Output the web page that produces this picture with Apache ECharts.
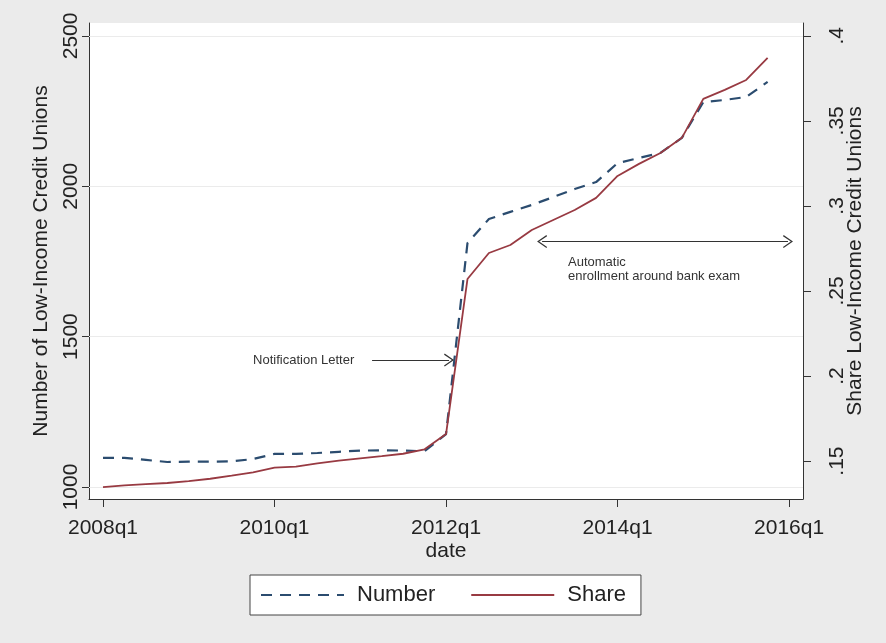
<!DOCTYPE html>
<html><head><meta charset="utf-8">
<script src="https://cdn.jsdelivr.net/npm/echarts@6/dist/echarts.min.js"></script>
<style>html,body{margin:0;padding:0;background:#ebebeb}#c{width:886px;height:643px}</style>
</head><body><div id="c"></div>
<script>
// ---- data ----
const quarterLabels = ['2008q1','2008q2','2008q3','2008q4','2009q1','2009q2','2009q3','2009q4',
  '2010q1','2010q2','2010q3','2010q4','2011q1','2011q2','2011q3','2011q4',
  '2012q1','2012q2','2012q3','2012q4','2013q1','2013q2','2013q3','2013q4',
  '2014q1','2014q2','2014q3','2014q4','2015q1','2015q2','2015q3','2015q4'];
const numberValues = [1097,1097,1090,1083,1084,1084,1085,1093,1110,1110,1113,1117,1121,1122,1121,1119,
  1176,1811,1891,1915,1938,1964,1991,2014,2077,2094,2111,2161,2280,2287,2297,2347];
const shareValues = [0.1347,0.1357,0.1365,0.1371,0.1382,0.1396,0.1414,0.1434,0.1461,0.1467,0.1486,0.1502,0.1516,0.1529,0.1543,0.1569,
  0.1659,0.257,0.2723,0.277,0.2858,0.2917,0.2976,0.3047,0.3176,0.3247,0.3311,0.340,0.3629,0.3682,0.374,0.387];
const xTickValues = [0, 8, 16, 24, 32];
const xTickLabels = ['2008q1','2010q1','2012q1','2014q1','2016q1'];
const leftTickValues = [1000, 1500, 2000, 2500];
const leftTickLabels = ['1000','1500','2000','2500'];
const rightTickValues = [0.15, 0.2, 0.25, 0.3, 0.35, 0.4];
const rightTickLabels = ['.15','.2','.25','.3','.35','.4'];
const seriesNames = ['Number','Share'];
const axisTitles = {x:'date', left:'Number of Low-Income Credit Unions', right:'Share Low-Income Credit Unions'};
const noteLetterText = 'Notification Letter';
const noteEnrollText = 'Automatic\nenrollment around bank exam';

// ---- annotation placement (data units) ----
const noteLetter = {tx: 7.0, y: 1422, from: 12.55, to: 16.14};
const noteEnroll = {tx: 21.69, ty: 1724, y: 1816, from: 20.48, to: 31.95};

const FONT = '"Liberation Sans", Arial, sans-serif';
const TXT = '#222';
const AX = '#333';
const chevron = 'path://M0,10 L5,0 L10,10 L9.1,10.7 L5,2.3 L0.9,10.7 Z';

function lookup(vals, labels, v){
  for (let i=0;i<vals.length;i++) if (Math.abs(vals[i]-v) < 1e-6) return labels[i];
  return '';
}

const chart = echarts.init(document.getElementById('c'), null, {renderer:'canvas'});
chart.setOption({
  animation: false,
  backgroundColor: '#ebebeb',
  textStyle: {fontFamily: FONT},
  grid: {left: 89, right: 83, top: 23, bottom: 144, show: true, backgroundColor: '#fff', borderWidth: 0},
  legend: {
    data: seriesNames, left: 250, top: 575, orient: 'horizontal',
    backgroundColor: '#fff', borderColor: '#444', borderWidth: 1,
    padding: [9, 15, 9, 10], itemWidth: 83, itemHeight: 14, itemGap: 35,
    itemStyle: {opacity: 0},
    textStyle: {fontSize: 22, color: TXT, fontFamily: FONT, padding: [0,0,0,8]}
  },
  xAxis: {
    type: 'value', min: -0.653, max: 32.65,
    name: axisTitles.x, nameLocation: 'middle', nameGap: 42, nameMoveOverlap: false,
    nameTextStyle: {fontSize: 21, color: TXT, fontFamily: FONT},
    axisLine: {show: true, onZero: false, lineStyle: {color: AX, width: 1}},
    axisTick: {show: true, length: 8, customValues: xTickValues, lineStyle: {color: AX}},
    axisLabel: {customValues: xTickValues, fontSize: 21, color: TXT, margin: 19,
      formatter: v => lookup(xTickValues, xTickLabels, v)},
    splitLine: {show: false}
  },
  yAxis: [{
    type: 'value', position: 'left', min: 960, max: 2543,
    name: axisTitles.left, nameLocation: 'middle', nameGap: 37, nameMoveOverlap: false,
    nameTextStyle: {fontSize: 21, color: TXT, fontFamily: FONT},
    axisLine: {show: true, onZero: false, lineStyle: {color: AX, width: 1}},
    axisTick: {show: true, length: 7, customValues: leftTickValues, lineStyle: {color: AX}},
    axisLabel: {customValues: leftTickValues, rotate: 90, fontSize: 21, color: TXT, margin: 7,
      formatter: v => lookup(leftTickValues, leftTickLabels, v)},
    splitLine: {show: false}
  }, {
    type: 'value', position: 'right', min: 0.1277, max: 0.4075,
    name: axisTitles.right, nameLocation: 'middle', nameGap: 42, nameMoveOverlap: false,
    nameTextStyle: {fontSize: 21, color: TXT, fontFamily: FONT},
    axisLine: {show: true, onZero: false, lineStyle: {color: AX, width: 1}},
    axisTick: {show: true, length: 8, customValues: rightTickValues, lineStyle: {color: AX}},
    axisLabel: {customValues: rightTickValues, rotate: 90, fontSize: 21, color: TXT, margin: 24,
      formatter: v => lookup(rightTickValues, rightTickLabels, v)},
    splitLine: {show: false}
  }],
  series: [{
    name: '_grid', type: 'line', yAxisIndex: 0, data: [], z: 1, silent: true,
    markLine: {
      silent: true, z: 1, symbol: ['none','none'], label: {show: false},
      lineStyle: {color: '#ebebeb', width: 1.2, type: 'solid'},
      data: leftTickValues.map(v => ({yAxis: v}))
    }
  }, {
    name: seriesNames[0], type: 'line', yAxisIndex: 0, z: 3,
    data: quarterLabels.map((q, i) => [i, numberValues[i]]),
    showSymbol: false, symbol: 'none',
    lineStyle: {color: '#2b4c6f', width: 2.2, type: [11, 8]},
    itemStyle: {color: '#2b4c6f'}
  }, {
    name: seriesNames[1], type: 'line', yAxisIndex: 1, z: 3,
    data: quarterLabels.map((q, i) => [i, shareValues[i]]),
    showSymbol: false, symbol: 'none',
    lineStyle: {color: '#983a42', width: 1.8, type: 'solid'},
    itemStyle: {color: '#983a42'}
  }, {
    name: '_notes', type: 'line', yAxisIndex: 0, data: [], z: 4, silent: true,
    markLine: {
      silent: true, z: 4, symbol: ['none','none'], label: {show: false},
      lineStyle: {color: '#333', width: 1.2, type: 'solid'},
      data: [
        [{coord: [noteLetter.from, noteLetter.y], symbol: 'none'},
         {coord: [noteLetter.to, noteLetter.y], symbol: chevron, symbolSize: [13, 10]}],
        [{coord: [noteEnroll.from, noteEnroll.y], symbol: chevron, symbolSize: [13, 10]},
         {coord: [noteEnroll.to, noteEnroll.y], symbol: chevron, symbolSize: [13, 10]}]
      ]
    },
    markPoint: {
      silent: true, z: 4, symbol: 'circle', symbolSize: 0,
      label: {show: true, position: 'right', distance: 0, fontSize: 13, color: '#333', fontFamily: FONT, lineHeight: 14, align: 'left'},
      data: [
        {coord: [noteLetter.tx, noteLetter.y], label: {formatter: noteLetterText}},
        {coord: [noteEnroll.tx, noteEnroll.ty], label: {formatter: noteEnrollText}}
      ]
    }
  }]
});
</script></body></html>
